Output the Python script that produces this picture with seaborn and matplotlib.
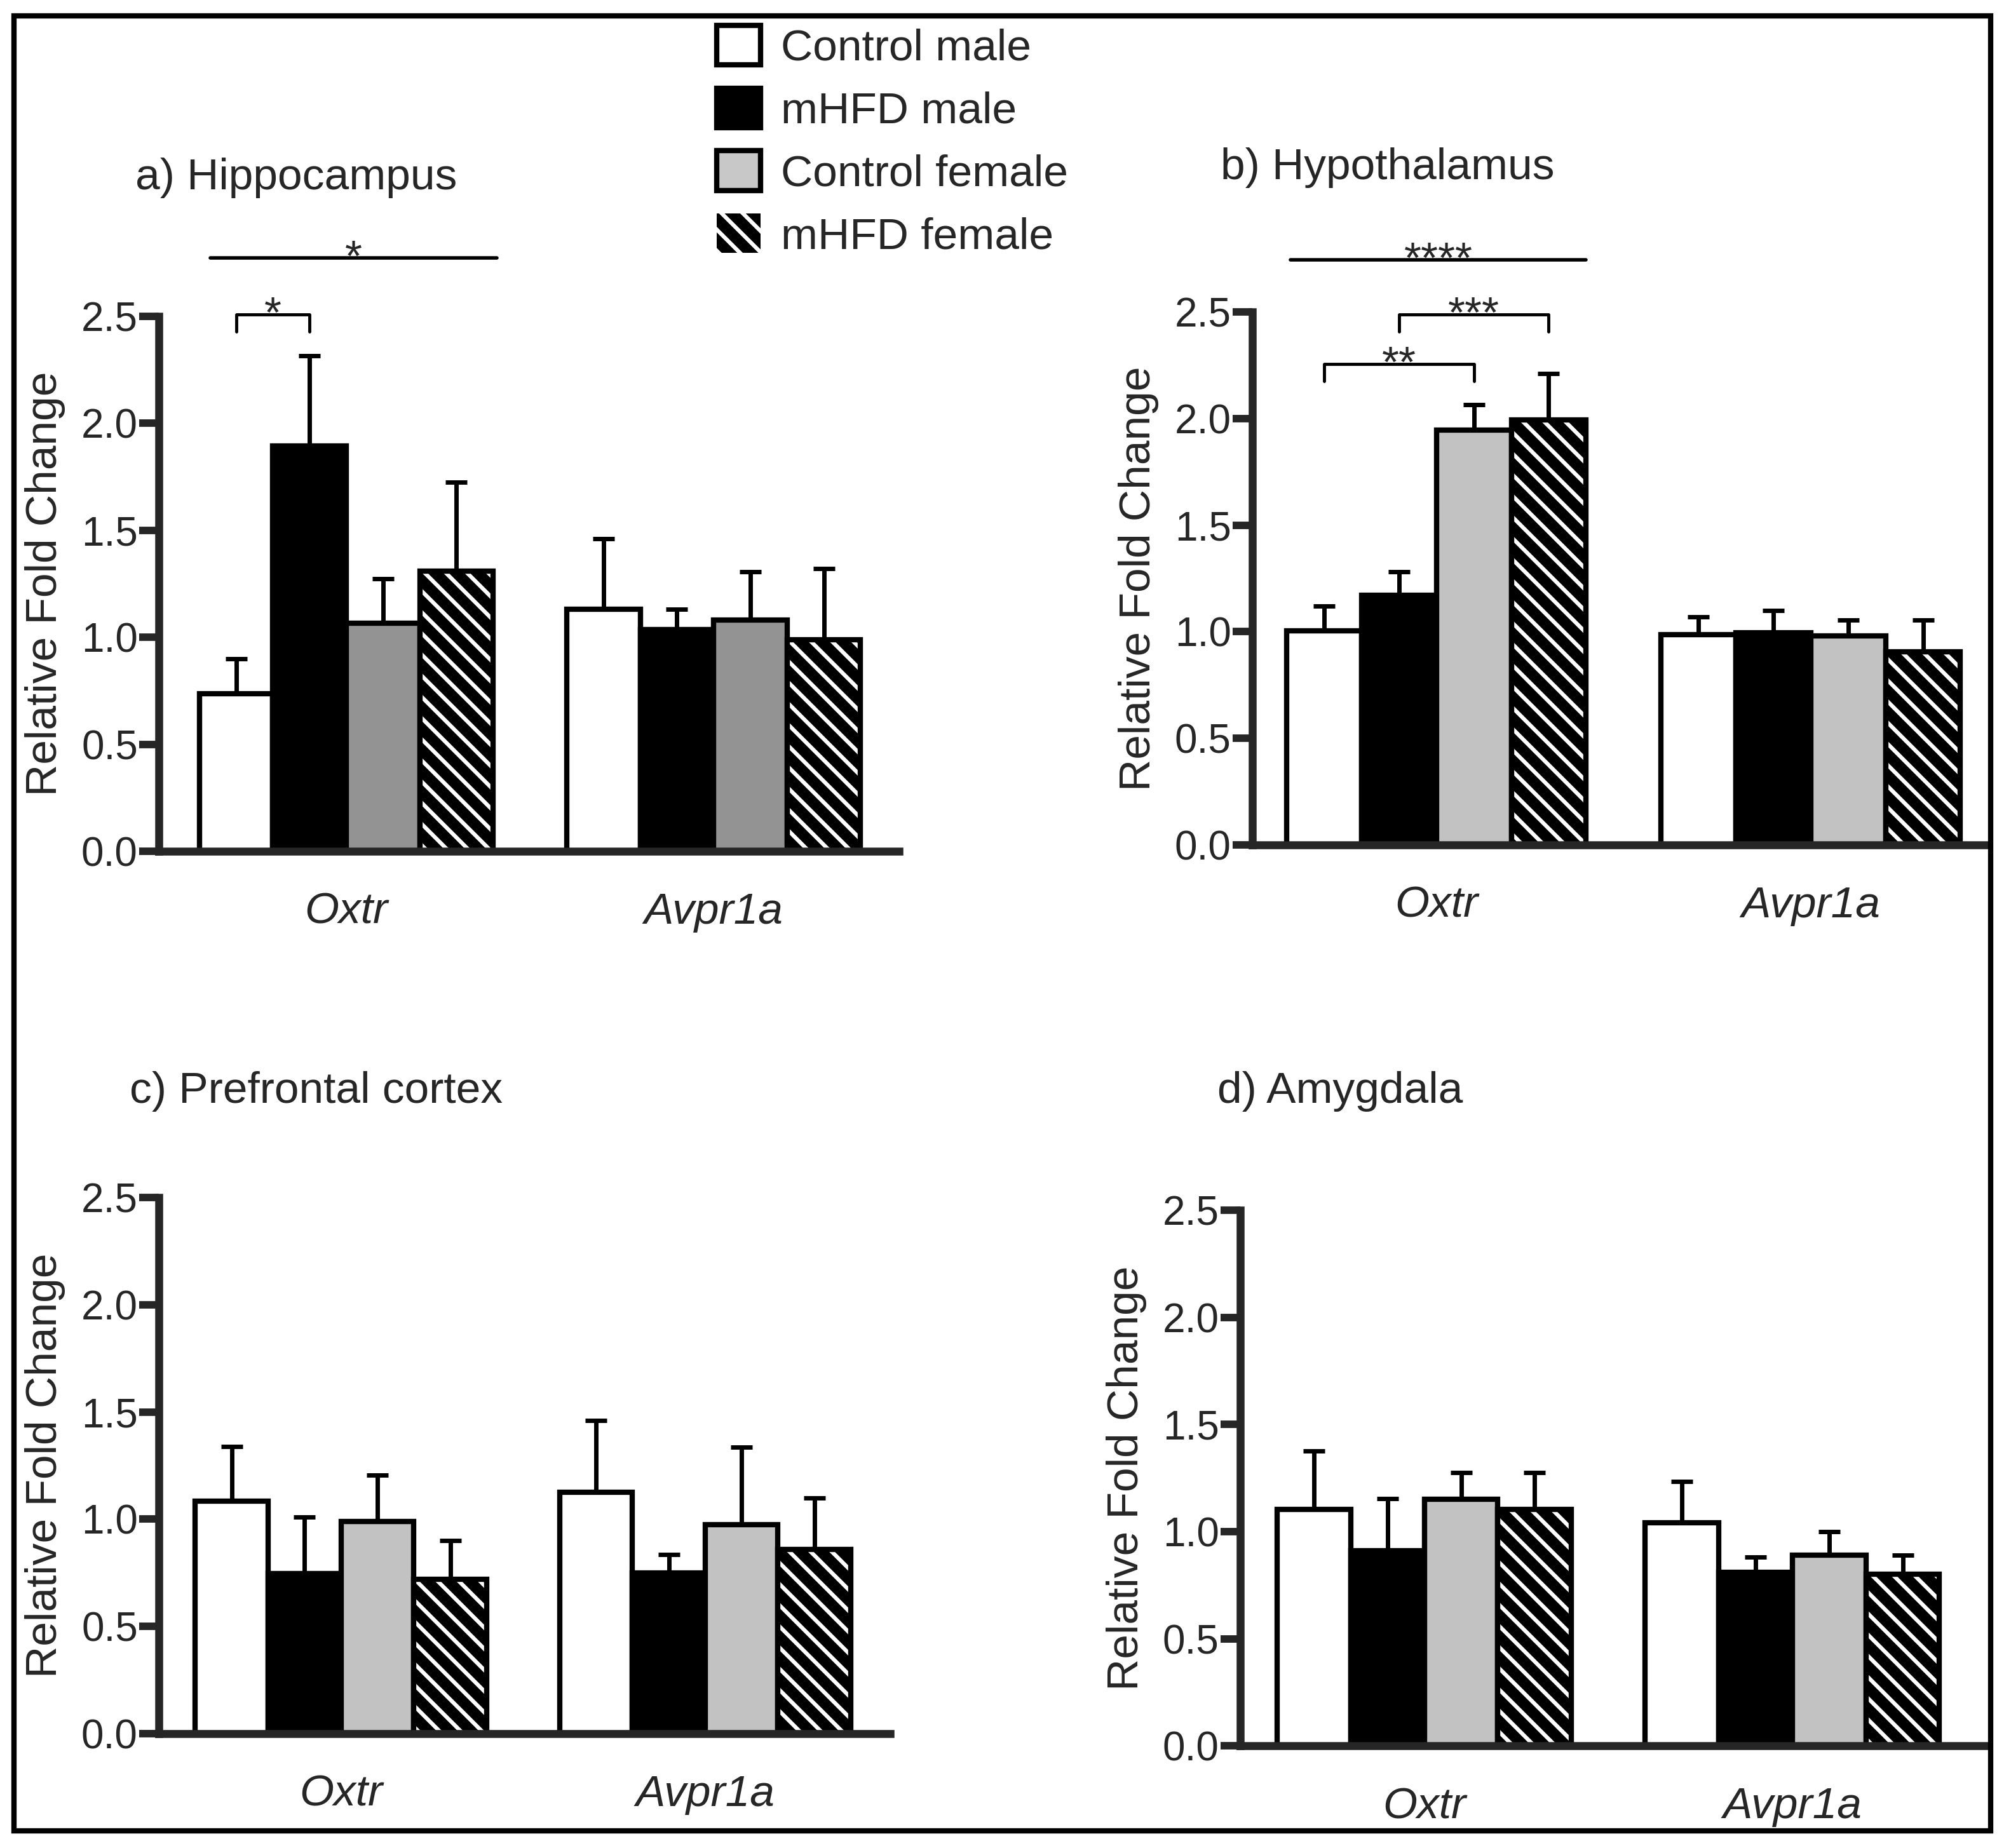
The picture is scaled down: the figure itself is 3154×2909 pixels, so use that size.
import numpy as np
import pandas as pd
import seaborn as sns
import matplotlib.pyplot as plt
import matplotlib.patches as mpatches
from matplotlib.ticker import FormatStrFormatter

# ---- data ----
genes = ['Oxtr', 'Avpr1a']
groups = ['Control male', 'mHFD male', 'Control female', 'mHFD female']

# a) Hippocampus  (rows = genes, cols = groups)
hippo_mean = [[0.735, 1.895, 1.065, 1.31], [1.13, 1.035, 1.08, 0.99]]
hippo_sem = [[0.165, 0.42, 0.21, 0.415], [0.33, 0.095, 0.225, 0.33]]
# b) Hypothalamus
hypo_mean = [[1.005, 1.17, 1.945, 1.995], [0.985, 0.995, 0.98, 0.905]]
hypo_sem = [[0.115, 0.11, 0.12, 0.215], [0.085, 0.105, 0.075, 0.15]]
# c) Prefrontal cortex
pfc_mean = [[1.085, 0.745, 0.99, 0.72], [1.125, 0.75, 0.975, 0.86]]
pfc_sem = [[0.255, 0.265, 0.215, 0.18], [0.335, 0.085, 0.36, 0.24]]
# d) Amygdala
amy_mean = [[1.105, 0.91, 1.15, 1.105], [1.04, 0.81, 0.89, 0.80]]
amy_sem = [[0.27, 0.245, 0.125, 0.17], [0.195, 0.07, 0.11, 0.09]]

# significance: long lines (x0, x1, y, label) and brackets (gene, group_i, group_j, y, label)
hippo_lines = [(-0.37, 0.41, 2.773, '*')]
hippo_brackets = [(0, 0, 1, 2.509, '*')]
hypo_lines = [(-0.39, 0.40, 2.744, '****')]
hypo_brackets = [(0, 0, 2, 2.256, '**'), (0, 1, 3, 2.488, '***')]

W, H = 3154, 2909
DPI = 100

sns.set_style('ticks')
plt.rcParams['font.family'] = ['Liberation Sans', 'DejaVu Sans']
plt.rcParams['hatch.linewidth'] = 4.5

EDGE = 6
ERR = 5
HATCH = '\\'
TICK_FS = 46
STAR_FS = 50
BIG_FS = 50

fig = plt.figure(figsize=(W / DPI, H / DPI), dpi=DPI)

# panel geometry in figure fractions and x limits
panels = [
    dict(title='a) Hippocampus', mean=hippo_mean, sem=hippo_sem, gray='#939393',
         rect=[0.0793, 0.5394, 0.3694, 0.2894], xlim=(-0.51, 1.505),
         title_xy=(213 / W, 1 - 280 / H), lines=hippo_lines, brackets=hippo_brackets),
    dict(title='b) Hypothalamus', mean=hypo_mean, sem=hypo_sem, gray='#c2c2c2',
         rect=[0.6249, 0.5428, 0.3672, 0.2884], xlim=(-0.492, 1.474),
         title_xy=(1921 / W, 1 - 264 / H), lines=hypo_lines, brackets=hypo_brackets),
    dict(title='c) Prefrontal cortex', mean=pfc_mean, sem=pfc_sem, gray='#c2c2c2',
         rect=[0.0793, 0.0619, 0.3649, 0.2901], xlim=(-0.50, 1.508),
         title_xy=(204 / W, 1 - 1718 / H), lines=[], brackets=[]),
    dict(title='d) Amygdala', mean=amy_mean, sem=amy_sem, gray='#c2c2c2',
         rect=[0.6189, 0.0553, 0.3735, 0.2898], xlim=(-0.50, 1.534),
         title_xy=(1916 / W, 1 - 1718 / H), lines=[], brackets=[]),
]

for p in panels:
    ax = fig.add_axes(p['rect'])
    rows = []
    for gi, g in enumerate(genes):
        for hi, grp in enumerate(groups):
            rows.append(dict(gene=g, group=grp, value=p['mean'][gi][hi],
                             sem=p['sem'][gi][hi]))
    df = pd.DataFrame(rows)
    pal = {'Control male': 'white', 'mHFD male': 'black',
           'Control female': p['gray'], 'mHFD female': 'black'}
    sns.barplot(data=df, x='gene', y='value', hue='group', order=genes,
                hue_order=groups, palette=pal, saturation=1, width=0.8,
                edgecolor='black', linewidth=EDGE, errorbar=None,
                legend=False, ax=ax)

    centers = {}
    bar_conts = list(ax.containers)
    for hi, cont in enumerate(bar_conts):
        for gi, bar in enumerate(cont.patches):
            cx = bar.get_x() + bar.get_width() / 2
            centers[(gi, hi)] = cx
            sem = df[(df.gene == genes[gi]) & (df.group == groups[hi])]['sem'].iloc[0]
            ax.errorbar(cx, bar.get_height(), yerr=[[0], [sem]], fmt='none',
                        ecolor='black', elinewidth=ERR, capsize=12, capthick=ERR,
                        zorder=0.5)
            if hi == 3:
                bar.set_facecolor('black')
                bar.set_edgecolor('white')
                bar.set_hatch(HATCH)
                bar.set_linewidth(0)
                ax.add_patch(mpatches.Rectangle(
                    (bar.get_x(), bar.get_y()), bar.get_width(), bar.get_height(),
                    fill=False, edgecolor='black', lw=EDGE, zorder=bar.get_zorder() + 0.1))

    ax.set_xlim(*p['xlim'])
    ax.set_ylim(0, 2.5)
    ax.set_yticks(np.arange(0, 2.51, 0.5))
    ax.yaxis.set_major_formatter(FormatStrFormatter('%.1f'))
    ax.set_xlabel('')
    ax.set_ylabel('Relative Fold Change', fontsize=BIG_FS, labelpad=18)
    sns.despine(ax=ax)
    for s in ['left', 'bottom']:
        ax.spines[s].set_linewidth(9)
    ax.tick_params(axis='y', direction='out', length=22, width=8.5, pad=2,
                   labelsize=TICK_FS)
    ax.tick_params(axis='x', length=0, pad=46, labelsize=BIG_FS)
    for lab in ax.get_xticklabels():
        lab.set_fontstyle('italic')

    # significance marks
    for x0, x1, y, lab in p['lines']:
        ax.plot([x0, x1], [y, y], color='black', lw=4, clip_on=False)
        ax.text((x0 + x1) / 2, y - 0.06, lab, ha='center', va='baseline',
                fontsize=STAR_FS, clip_on=False)
    for gi, h0, h1, y, lab in p['brackets']:
        xa, xb = centers[(gi, h0)], centers[(gi, h1)]
        ax.plot([xa, xa, xb, xb], [y - 0.08, y, y, y - 0.08], color='black',
                lw=3.5, clip_on=False)
        ax.text((xa + xb) / 2, y - 0.06, lab, ha='center', va='baseline',
                fontsize=STAR_FS, clip_on=False)

    fig.text(p['title_xy'][0], p['title_xy'][1], p['title'], ha='left',
             va='center', fontsize=BIG_FS)

# legend
handles = [
    mpatches.Patch(facecolor='white', edgecolor='black', lw=EDGE),
    mpatches.Patch(facecolor='black', edgecolor='black', lw=EDGE),
    mpatches.Patch(facecolor='#c8c8c8', edgecolor='black', lw=EDGE),
    mpatches.Patch(facecolor='black', edgecolor='white', hatch=HATCH, lw=0),
]
fig.legend(handles, groups, loc='upper left', bbox_to_anchor=(1128 / W, 1 - 40 / H),
           frameon=False, fontsize=BIG_FS, handlelength=1.0, handleheight=1.0,
           labelspacing=0.43, handletextpad=0.45, borderpad=0, borderaxespad=0)

# outer frame
fig.add_artist(mpatches.Rectangle((22 / W, 1 - 2882 / H), (3133 - 22) / W,
                                  (2882 - 25) / H, transform=fig.transFigure,
                                  fill=False, edgecolor='black', lw=6))

fig.savefig('out.png', dpi=DPI)
